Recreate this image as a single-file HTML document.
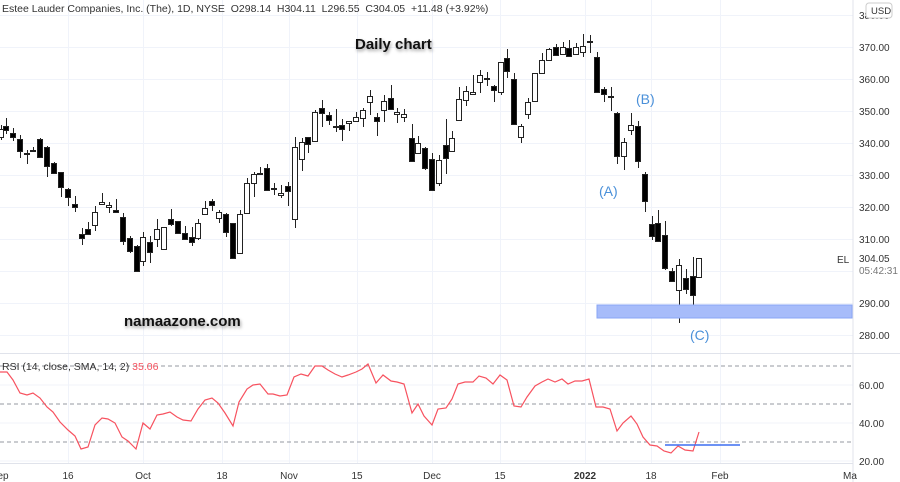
<!DOCTYPE html>
<html><head><meta charset="utf-8"><style>
body{margin:0;background:#fff;width:900px;height:482px;overflow:hidden}
svg{display:block;font-family:"Liberation Sans",sans-serif}
</style></head><body>
<svg id="s" width="900" height="482" xmlns="http://www.w3.org/2000/svg">
<g id="grid" stroke="#f0f3fa" stroke-width="1"></g>
<g id="c"></g>
<rect x="597" y="305" width="255" height="13" fill="#a7bcfa" stroke="#8aa6f5"/>
<line x1="853" y1="0" x2="853" y2="482" stroke="#e0e3eb"/>
<line x1="0" y1="353.5" x2="900" y2="353.5" stroke="#e0e3eb"/>
<line x1="0" y1="463.5" x2="853" y2="463.5" stroke="#e0e3eb"/>
<g stroke="#9598a1" stroke-dasharray="4,3"><line x1="0" y1="366" x2="853" y2="366"/><line x1="0" y1="404" x2="853" y2="404"/><line x1="0" y1="442" x2="853" y2="442"/></g>
<polyline id="rsi" fill="none" stroke="#f7525f" stroke-width="1.2"/>
<line x1="665" y1="445" x2="740" y2="445" stroke="#3d6ef0" stroke-width="1.5"/>
<text x="2" y="12" font-size="10.5" fill="#333" style="white-space:pre">Estee Lauder Companies, Inc. (The), 1D, NYSE  O298.14  H304.11  L296.55  C304.05  +11.48 (+3.92%)</text>
<text x="2" y="370" font-size="10.5" fill="#333">RSI (14, close, SMA, 14, 2) <tspan fill="#f7525f">35.06</tspan></text>
<g font-size="15" font-weight="bold" fill="#111" style="text-shadow:1px 2px 3px rgba(0,0,0,.4)">
<text x="355" y="49">Daily chart</text><text x="124" y="326">namaazone.com</text></g>
<g font-size="14" fill="#4a90d9"><text x="599" y="196">(A)</text><text x="636" y="104">(B)</text><text x="690" y="340">(C)</text></g>
<g font-size="10" fill="#333" id="ax"></g>
<text x="837" y="263" font-size="10" fill="#333">EL</text>
<rect x="855" y="252" width="45" height="26" fill="#fff"/>
<text x="859" y="262" font-size="10" fill="#333">304.05</text>
<text x="859" y="274" font-size="10" fill="#777">05:42:31</text>
<rect x="866" y="3" width="26" height="15" rx="3" fill="#fff" stroke="#ccc"/>
<text x="871" y="14" font-size="9.5" fill="#333">USD</text>
<g font-size="10" fill="#333" text-anchor="middle">
<text x="3" y="479">ep</text><text x="68" y="479">16</text><text x="143" y="479">Oct</text><text x="222" y="479">18</text><text x="289" y="479">Nov</text><text x="357" y="479">15</text><text x="432" y="479">Dec</text><text x="500" y="479">15</text><text x="585" y="479" font-weight="bold">2022</text><text x="651" y="479">18</text><text x="720" y="479">Feb</text><text x="850" y="479">Ma</text></g>
</svg>
<script>
var ns="http://www.w3.org/2000/svg",s=document.getElementById('s');
function el(p,t,a){var e=document.createElementNS(ns,t);for(var k in a)e.setAttribute(k,a[k]);p.appendChild(e);return e;}
var g=document.getElementById('grid');
for(var y=15;y<=340;y+=32)el(g,'line',{x1:0,y1:y+.5,x2:853,y2:y+.5});
[385,423,461].forEach(function(y){el(g,'line',{x1:0,y1:y,x2:853,y2:y});});
[68,143,222,289,357,432,500,585,651,720].forEach(function(x){el(g,'line',{x1:x+.5,y1:0,x2:x+.5,y2:463});});
var ax=document.getElementById('ax');
for(var i=0;i<=10;i++){var p=380-i*10,y=15+i*32;if(p==300)continue;var t=el(ax,'text',{x:859,y:y+4});t.textContent=p.toFixed(2);}
[[60,385],[40,423],[20,461]].forEach(function(a){var t=el(ax,'text',{x:859,y:a[1]+4});t.textContent=a[0].toFixed(2);});
var C=[[1,125,140,129,137,0],[6,118,134,126,130,1],[13,128,141,133,137,1],[20,135,158,139,151,1],[27,150,164,153,154,1],[33,147,152,150,151,1],[40,138,157,139,157,1],[47,146,177,147,166,1],[54,162,174,163,173,1],[61,172,197,172,187,1],[68,188,206,189,197,1],[75,196,212,204,207,1],[82,228,245,234,238,1],[88,222,235,229,234,1],[95,206,231,212,225,0],[102,193,205,202,204,0],[109,202,213,205,207,0],[116,199,213,210,212,1],[123,213,245,217,241,1],[130,236,253,238,251,1],[137,245,271,246,271,1],[143,232,266,237,261,0],[150,236,263,242,252,1],[157,219,247,229,239,0],[164,227,249,227,249,0],[171,209,226,219,224,1],[178,221,234,221,233,1],[185,226,240,233,239,1],[192,227,246,237,242,1],[198,219,240,223,238,0],[205,201,215,208,214,0],[212,199,211,201,205,1],[219,210,223,212,218,0],[226,213,237,214,232,1],[233,223,258,223,258,1],[240,210,253,214,253,0],[247,178,213,183,213,0],[254,172,197,174,183,0],[260,167,175,173,174,0],[267,164,190,168,190,1],[274,183,195,188,189,1],[281,185,198,193,195,0],[288,182,206,186,191,1],[295,137,228,147,219,0],[302,138,171,142,159,0],[308,137,153,137,144,1],[315,110,142,112,141,0],[322,100,127,108,113,1],[329,112,125,115,120,1],[336,109,132,126,127,1],[342,119,141,125,129,1],[349,121,131,121,123,0],[356,112,122,117,121,0],[363,108,127,110,118,0],[370,90,115,96,102,0],[377,113,136,117,121,1],[384,95,122,101,110,0],[391,85,110,98,109,1],[397,108,123,112,114,0],[404,109,122,114,117,0],[412,124,161,138,161,1],[418,136,154,143,153,0],[425,147,170,148,168,1],[432,153,190,159,190,1],[439,155,186,160,183,0],[446,119,174,145,158,1],[452,131,151,138,151,0],[459,87,120,99,120,0],[466,86,106,91,100,0],[473,75,94,92,94,0],[480,70,93,75,82,0],[487,72,86,78,79,1],[494,85,102,86,90,1],[501,62,95,62,92,0],[507,49,78,58,71,1],[514,73,125,79,124,1],[521,124,143,126,137,0],[528,98,119,102,114,0],[535,73,101,73,101,0],[542,53,73,60,73,0],[549,48,61,49,60,0],[556,44,55,47,55,1],[563,42,55,47,54,0],[569,40,56,48,56,1],[576,43,55,47,54,0],[583,34,57,46,52,0],[590,35,53,41,42,1],[597,52,92,57,92,1],[604,87,102,89,94,1],[611,87,111,96,97,1],[617,112,164,113,156,1],[624,138,170,142,156,0],[631,113,135,125,130,0],[638,121,168,126,161,1],[645,172,212,174,201,1],[652,216,240,224,236,1],[658,210,242,223,241,1],[665,221,270,235,268,1],[672,268,282,271,281,1],[679,259,323,265,290,0],[686,269,294,278,289,1],[693,257,306,276,295,1],[699,258,277,258,277,0]];
var cg=document.getElementById('c');
C.forEach(function(d){var x=d[0]+.5;el(cg,'line',{x1:x,y1:d[1],x2:x,y2:d[2],stroke:'#222'});var h=Math.max(1,d[4]-d[3]);el(cg,'rect',{x:d[0]-2.5,y:d[3]+.5,width:5,height:h,fill:d[5]?'#000':'#fff',stroke:'#222','stroke-width':1});});
var R="0,372 7,372 13,380 20,393 27,395 33,393 40,398 47,407 53,412 60,422 68,430 75,436 81,449 88,447 95,425 102,418 108,419 115,423 122,437 128,441 136,449 143,423 150,429 157,415 163,414 170,412 177,417 183,420 191,421 198,409 205,400 212,398 218,403 225,413 233,426 239,402 247,389 253,385 260,384 268,394 273,394 280,396 287,395 294,377 301,374 308,376 315,366 322,366 328,370 335,374 342,377 348,375 356,372 362,369 368,364 376,383 383,375 391,381 397,382 404,384 412,413 418,404 424,416 432,425 438,409 446,408 452,399 458,384 465,382 473,382 479,376 486,378 493,384 500,375 507,380 514,406 521,407 527,397 535,386 542,382 548,379 555,382 562,379 568,384 575,381 582,381 589,379 596,407 603,407 610,409 617,431 623,423 631,416 637,424 643,437 650,445 657,446 664,451 671,453 678,446 685,450 693,451 699,432";
document.getElementById('rsi').setAttribute('points',R);
</script>
</body></html>
